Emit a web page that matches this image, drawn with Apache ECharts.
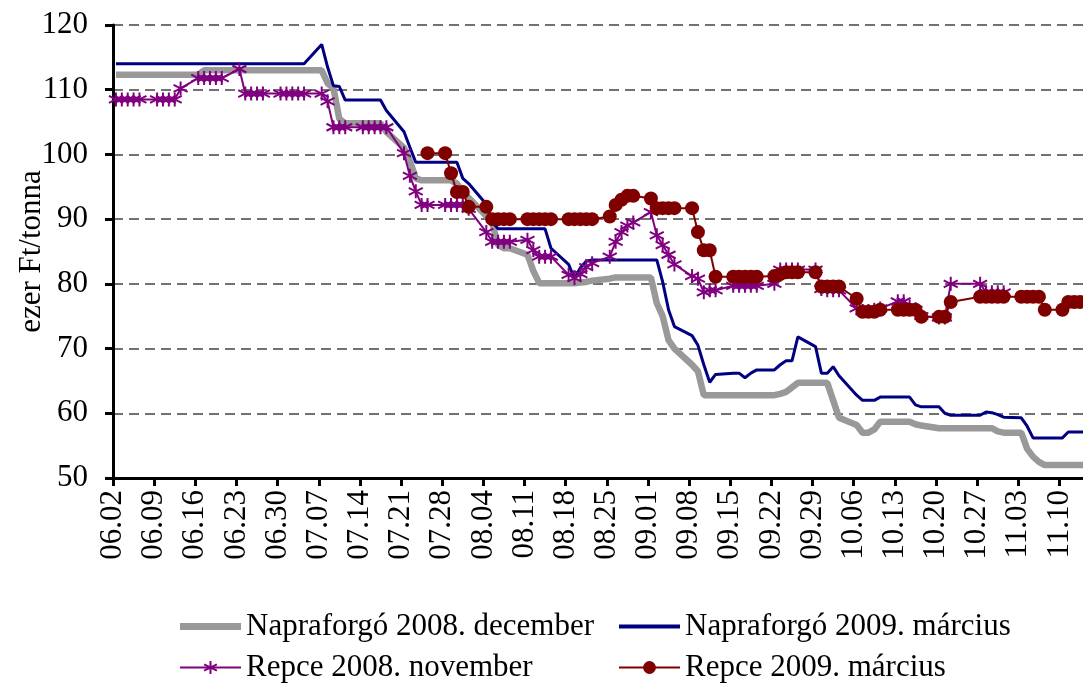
<!DOCTYPE html>
<html>
<head>
<meta charset="utf-8">
<script src="https://cdn.jsdelivr.net/npm/echarts@6/dist/echarts.min.js"></script>
<style>
html,body{margin:0;padding:0;background:#fff}
#main{width:1083px;height:689px}
</style>
</head>
<body>
<div id="main"></div>
<script>
// trading days 2008.06.02 - 2008.11.14 (weekdays), offset in days from 06.02
var startYear = 2008, startMonth = 5, startDay = 2;
var dayCount = 166;
var days = [];
for (var i = 0; i < dayCount; i++) {
	if (i % 7 < 5) days.push(i);
}

// one row = one week (Mon..Fri)
var napraforgo2008dec = [
	112.3,112.3,112.3,112.3,112.3,
	112.3,112.3,112.3,112.3,112.3,
	112.3,113,113,113,113,
	113,113,113,113,113,
	113,113,113,113,113,
	113,111,110.2,105.5,104.8,
	104.8,104.8,104.8,104.8,103.5,
	101,99,96.3,96,96,
	96,96,95.5,94.2,93.3,
	90.5,89.4,86,85.5,85.5,
	84.5,82,80.1,80.1,80.1,
	80.1,80.1,80.2,80.3,80.5,
	80.8,81,81,81,81,
	81,77,75,71.3,70,
	67.5,66.5,62.8,62.8,62.8,
	62.8,62.8,62.8,62.8,62.8,
	62.8,63,63.3,64,64.7,
	64.7,64.7,64.7,62,59.3,
	58.2,57,57,57.5,58.7,
	58.7,58.7,58.7,58.3,58.1,
	57.7,57.7,57.7,57.7,57.7,
	57.7,57.7,57.7,57.2,57,
	57,54.5,53.3,52.5,52,
	52,52,52,52,52
];
var napraforgo2009mar = [
	114,114,114,114,114,
	114,114,114,114,114,
	114,114,114,114,114,
	114,114,114,114,114,
	114,114,114,114,114,
	117,113.5,110.6,110.5,108.4,
	108.4,108.4,108.4,108.4,106.8,
	103.5,101.1,98.8,98.8,98.8,
	98.8,98.8,98.8,96.3,95.5,
	92.3,89.6,88.5,88.5,88.5,
	88.5,88.5,88.5,88.5,85.5,
	83,80.8,82.5,83.5,83.7,
	83.7,83.7,83.7,83.7,83.7,
	83.7,83.7,80.3,76,73.4,
	72,70.5,67.5,64.8,66,
	66.2,66.2,65.5,66.2,66.7,
	66.7,67.5,68.1,68.1,71.8,
	70.3,66.2,66.2,67.2,65.8,
	62.8,62,62,62,62.5,
	62.5,62.5,62.5,61.3,61,
	61,60,59.7,59.7,59.7,
	59.7,60.2,60.1,59.8,59.4,
	59.3,58,56.2,56.2,56.2,
	56.2,57.1,57.1,57.1,57.1
];
var repce2008nov = [
	108.5,108.5,108.5,108.5,108.5,
	108.5,108.5,108.5,108.5,110.2,
	111.8,111.8,111.8,111.8,111.8,
	113.2,109.4,109.4,109.4,109.4,
	109.4,109.4,109.4,109.4,109.4,
	109.4,108.2,104.2,104.2,104.2,
	104.2,104.2,104.2,104.2,104.2,
	100.2,96.7,94.3,92.2,92.2,
	92.2,92.2,92.2,92.2,91.6,
	88,86.5,86.5,86.5,86.5,
	86.8,85.2,84.2,84.2,84.2,
	81.4,80.9,81.5,82.6,83.2,
	84.2,86.5,88,89,89.5,
	91.1,87.5,86,84.5,83,
	81.2,80.8,78.7,79,79,
	79.7,79.7,79.7,79.7,79.7,
	80,82.2,82.2,82.2,82.2,
	82.2,79.2,79,79,79,
	76.2,75.8,75.8,76,76.2,
	77.3,77.3,76.5,76,75,
	74.8,74.8,80,null,null,
	80,78.7,78.7,78.7,78.7,
	null,null,null,null,null,
	null,null,null,null,null
];
var repce2009mar = [
	null,null,null,null,null,
	null,null,null,null,null,
	null,null,null,null,null,
	null,null,null,null,null,
	null,null,null,null,null,
	null,null,null,null,null,
	null,null,null,null,null,
	null,null,null,null,100.2,
	100.2,97.1,94.2,94.2,91.9,
	91.9,90,90,90,90,
	90,90,90,90,90,
	90,90,90,90,90,
	90.4,92.2,93,93.6,93.6,
	93.2,91.7,91.7,91.7,91.7,
	91.7,88,85.2,85.2,81.1,
	81.1,81.1,81.1,81.1,81.1,
	81.2,81.5,81.8,81.8,81.8,
	81.8,79.6,79.6,79.6,79.6,
	77.7,75.7,75.7,75.7,76,
	76,76,76,76,74.9,
	74.9,74.9,77.2,null,null,
	78,78,78,78,78,
	78,78,78,78,76,
	76,77.2,77.2,77.2,77.2
];
var yTicks = [50, 120, 10];

var seriesNames = ['Napraforgó 2008. december', 'Napraforgó 2009. március', 'Repce 2008. november', 'Repce 2009. március'];

function pairs(vals) {
	var out = [];
	for (var i = 0; i < days.length; i++) {
		if (vals[i] != null) out.push([days[i] + 0.5, vals[i]]);
	}
	return out;
}
function dateLabel(v) {
	if (v % 7 !== 0) return '';
	var d = new Date(startYear, startMonth, startDay + v);
	var m = d.getMonth() + 1, dd = d.getDate();
	return (m < 10 ? '0' : '') + m + '.' + (dd < 10 ? '0' : '') + dd;
}

var font = "'Liberation Serif','Times New Roman',serif";
var starPath = 'path://M5,0L5,10M0.7,2.5L9.3,7.5M0.7,7.5L9.3,2.5';
var legendText = { fontFamily: font, fontSize: 31, lineHeight: 31, color: '#000' };

var myChart = echarts.init(document.getElementById('main'));
var option = {
	backgroundColor: '#fff',
	animation: false,
	textStyle: { fontFamily: font, color: '#000' },
	grid: { left: 113, top: 25, right: 0, bottom: 211, containLabel: false, outerBoundsMode: 'none' },
	legend: [{
		orient: 'vertical', left: 179, top: 611, padding: 0, height: 78,
		itemWidth: 61, itemHeight: 16, itemGap: 10,
		textStyle: legendText,
		data: [{ name: seriesNames[0], icon: 'path://M0,0H61V7H0Z' }, seriesNames[2]]
	}, {
		orient: 'vertical', left: 618, top: 611, padding: 0, height: 78,
		itemWidth: 61, itemHeight: 16, itemGap: 10,
		textStyle: legendText,
		data: [{ name: seriesNames[1], icon: 'path://M0,0H61V4H0Z' }, seriesNames[3]]
	}],
	xAxis: {
		type: 'value', min: 0, max: dayCount - 1, interval: 7,
		splitLine: { show: false },
		axisLine: { lineStyle: { color: '#000', width: 3 } },
		axisTick: { length: 8, lineStyle: { color: '#000', width: 3 } },
		axisLabel: {
			rotate: 90, margin: 12, fontFamily: font, fontSize: 31, color: '#000',
			showMaxLabel: false, formatter: dateLabel
		}
	},
	yAxis: {
		type: 'value', min: yTicks[0], max: yTicks[1], interval: yTicks[2],
		name: 'ezer Ft/tonna', nameLocation: 'middle', nameGap: 66, nameMoveOverlap: false,
		nameTextStyle: { fontFamily: font, fontSize: 31, color: '#000' },
		axisLine: { show: true, lineStyle: { color: '#000', width: 3 } },
		axisTick: { show: true, length: 8, lineStyle: { color: '#000', width: 3 } },
		axisLabel: { margin: 25, fontFamily: font, fontSize: 31, color: '#000' },
		splitLine: { lineStyle: { color: '#444', width: 1.5, type: [10, 6] } }
	},
	series: [{
		name: seriesNames[0], type: 'line', data: pairs(napraforgo2008dec),
		showSymbol: false, symbol: 'none', connectNulls: true,
		lineStyle: { color: '#999999', width: 6.5 }, itemStyle: { color: '#999999' }
	}, {
		name: seriesNames[1], type: 'line', data: pairs(napraforgo2009mar),
		showSymbol: false, symbol: 'none', connectNulls: true,
		lineStyle: { color: '#000080', width: 3 }, itemStyle: { color: '#000080' }
	}, {
		name: seriesNames[2], type: 'line', data: pairs(repce2008nov),
		symbol: starPath, symbolSize: 14, connectNulls: true,
		lineStyle: { color: '#800080', width: 2 },
		itemStyle: { color: '#800080', borderColor: '#800080', borderWidth: 2 }
	}, {
		name: seriesNames[3], type: 'line', data: pairs(repce2009mar),
		symbol: 'circle', symbolSize: 14, connectNulls: true,
		lineStyle: { color: '#800000', width: 2 },
		itemStyle: { color: '#800000' }
	}]
};
myChart.setOption(option, true);
</script>
</body>
</html>
